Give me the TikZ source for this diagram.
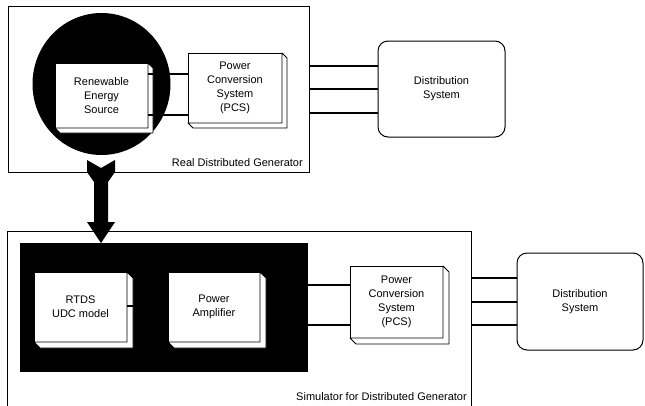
\documentclass[tikz,border=0pt]{standalone}
\usepackage{fontspec}
\setmainfont{Liberation Sans}
\begin{document}
\begin{tikzpicture}[x=1pt,y=-1pt,
  face/.style={draw=black, fill=white, line width=0.8pt, outer sep=0pt, inner sep=0pt, align=center, font=\fontsize{11}{14}\selectfont},
  side/.style={draw=black, fill=white, line width=0.8pt, line join=round},
  distbox/.style={draw=black, fill=white, line width=1pt, rounded corners=10pt, outer sep=0pt, align=center, font=\fontsize{11}{14}\selectfont},
  frame/.style={draw=black, line width=0.8pt, outer sep=0pt, inner sep=0pt},
  wire/.style={draw=black, line width=1.3pt},
  lbl/.style={font=\fontsize{11}{14}\selectfont, inner sep=0pt}]
\useasboundingbox (0,0) rectangle (645,405);
\clip (0,0) rectangle (645,405);
\newcommand\depthbox[2]{%
  \draw[side] (#1.north east) -- ++(#2,#2) -- ([shift={(#2,#2)}]#1.south east) -- ([shift={(#2,#2)}]#1.south west) -- (#1.south west) -- (#1.south east) -- cycle;}

% ---------- Real distributed generator ----------
\node[frame, minimum width=301pt, minimum height=166pt, anchor=north west] (rdg) at (8,6) {};
\node[lbl, anchor=east] (rdglbl) at (303,163) {Real Distributed Generator};

\fill[black] (101.5,84) ellipse [x radius=69pt, y radius=71pt];
\fill[black] (87,160) -- (101,168) -- (115,160) -- (115,172) -- (108,182) -- (108,222)
  -- (115,222) -- (101,243) -- (87,222) -- (94,222) -- (94,182) -- (87,172) -- cycle;

\node[face, minimum width=93pt, minimum height=65pt] (res) at (101.5,95.5) {Renewable\\Energy\\Source};
\depthbox{res}{5}
\node[face, minimum width=94pt, minimum height=70pt] (pcs) at (235,88) {Power\\Conversion\\System\\(PCS)};
\depthbox{pcs}{5}
\draw[wire] (res.east |- 0,74) -- (pcs.west |- 0,74);
\draw[wire] (res.east |- 0,115) -- (pcs.west |- 0,115);

\node[distbox, minimum width=127pt, minimum height=96pt] (dist) at (441.5,89) {Distribution\\System};
\draw[wire] (rdg.east |- 0,66) -- (dist.west |- 0,66);
\draw[wire] (rdg.east |- 0,89) -- (dist.west |- 0,89);
\draw[wire] (rdg.east |- 0,113) -- (dist.west |- 0,113);

% ---------- Simulator ----------
\node[frame, minimum width=464pt, minimum height=185pt, anchor=north west] (sdg) at (7,231) {};
\node[lbl, anchor=east] (sdglbl) at (467,397) {Simulator for Distributed Generator};

\node[fill=black, outer sep=0pt, inner sep=0pt, minimum width=288pt, minimum height=129pt, anchor=north west] (blk) at (20,243) {};

\node[face, minimum width=93pt, minimum height=70pt] (rtds) at (80.5,307) {RTDS\\UDC model};
\depthbox{rtds}{6}
\node[face, minimum width=92pt, minimum height=70pt] (pa) at (214,307) {Power\\Amplifier};
\depthbox{pa}{6}
\draw[wire] (rtds.east |- 0,306) -- (pa.west |- 0,306);

\node[face, minimum width=93pt, minimum height=72pt] (pcs2) at (396.5,302) {Power\\Conversion\\System\\(PCS)};
\depthbox{pcs2}{6}
\draw[wire] (blk.east |- 0,285) -- (pcs2.west |- 0,285);
\draw[wire] (blk.east |- 0,325) -- (pcs2.west |- 0,325);

\node[distbox, minimum width=126pt, minimum height=97pt] (dist2) at (580,301.5) {Distribution\\System};
\draw[wire] (sdg.east |- 0,278) -- (dist2.west |- 0,278);
\draw[wire] (sdg.east |- 0,302) -- (dist2.west |- 0,302);
\draw[wire] (sdg.east |- 0,325) -- (dist2.west |- 0,325);
\end{tikzpicture}
\end{document}
